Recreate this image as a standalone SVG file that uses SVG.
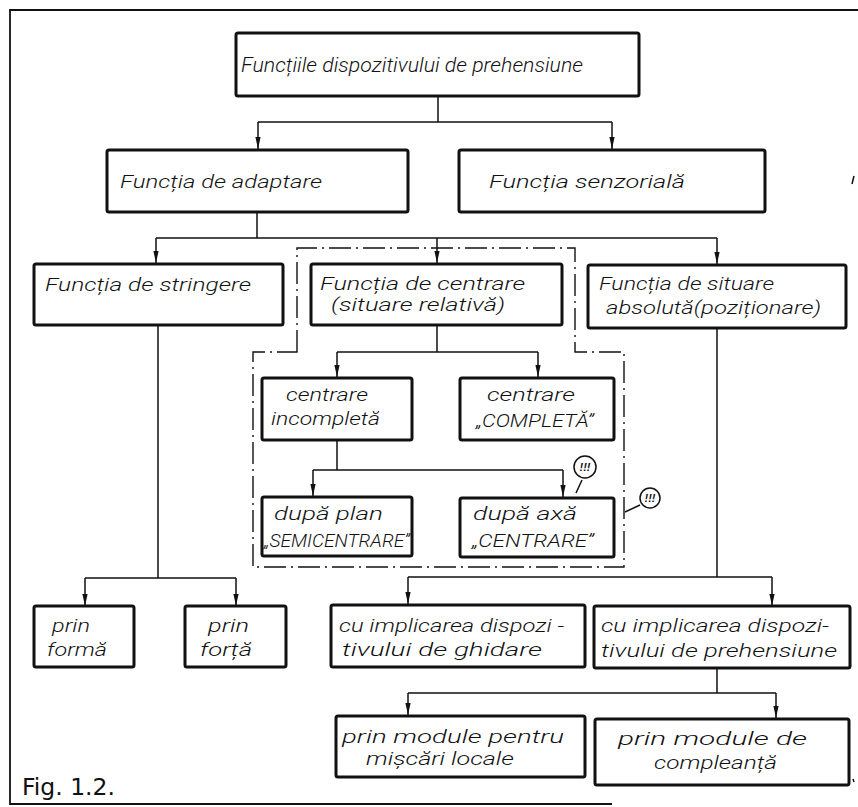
<svg xmlns="http://www.w3.org/2000/svg" width="858" height="807" viewBox="0 0 858 807">
<style>
.box{fill:#fff;stroke:#111;stroke-width:3;}
.ln{fill:none;stroke:#111;stroke-width:1.5;}
.fr{fill:none;stroke:#111;stroke-width:1.8;}
.dd{fill:none;stroke:#111;stroke-width:1.4;stroke-dasharray:22 5 2 5;}
.t{font-family:Roboto,"Liberation Sans","DejaVu Sans",sans-serif;font-style:italic;font-weight:300;font-size:19px;fill:#111;}
.t1{font-size:20px;}
.cap{font-family:"DejaVu Sans","Liberation Sans",sans-serif;font-size:23px;fill:#111;}
.ex{font-family:"Liberation Sans",sans-serif;font-style:italic;font-size:11px;fill:#111;font-weight:bold;}
</style>
<defs>
<marker id="ar" viewBox="-12 -3 12 6" markerWidth="12" markerHeight="6" refX="0" refY="0" orient="auto" markerUnits="userSpaceOnUse">
<path d="M0,0 L-12,-2.6 L-12,2.6 Z" fill="#111"/>
</marker>
</defs>
<rect width="858" height="807" fill="#fff"/>
<g id="frame">
<path class="fr" d="M858,10 H10 V804 H612"/>
<path class="dd" d="M297,352 V248 H575 V352 H624 V567 H253 V352 Z"/>
<path class="ln" d="M854,176 L852,184 M853,779 L854,782"/>
</g>
<g id="connectors">
<path class="ln" d="M438,96 V122 M258,122 H612"/>
<path class="ln" d="M258,122 V149" marker-end="url(#ar)"/>
<path class="ln" d="M612,122 V149" marker-end="url(#ar)"/>
<path class="ln" d="M257,212 V238 M156,238 H717"/>
<path class="ln" d="M156,238 V263" marker-end="url(#ar)"/>
<path class="ln" d="M437,238 V263" marker-end="url(#ar)"/>
<path class="ln" d="M717,238 V264" marker-end="url(#ar)"/>
<path class="ln" d="M437,325 V352 M337,352 H538"/>
<path class="ln" d="M337,352 V377" marker-end="url(#ar)"/>
<path class="ln" d="M538,352 V377" marker-end="url(#ar)"/>
<path class="ln" d="M337,440 V470 M313,470 H563"/>
<path class="ln" d="M313,470 V496" marker-end="url(#ar)"/>
<path class="ln" d="M563,470 V497" marker-end="url(#ar)"/>
<path class="ln" d="M158,325 V578 M85,578 H236"/>
<path class="ln" d="M85,578 V606" marker-end="url(#ar)"/>
<path class="ln" d="M236,578 V606" marker-end="url(#ar)"/>
<path class="ln" d="M717,328 V577 M408,577 H772"/>
<path class="ln" d="M408,577 V604" marker-end="url(#ar)"/>
<path class="ln" d="M772,577 V606" marker-end="url(#ar)"/>
<path class="ln" d="M717,668 V693 M408,693 H776"/>
<path class="ln" d="M408,693 V715" marker-end="url(#ar)"/>
<path class="ln" d="M776,693 V718" marker-end="url(#ar)"/>
<path class="ln" d="M576,493 L582,480 M625,512 L640,505"/>
</g>
<g id="n1"><rect class="box" x="236" y="33" width="403" height="63" rx="2"/>
<text class="t t1" x="241" y="72" textLength="342" lengthAdjust="spacingAndGlyphs">Funcțiile dispozitivului de prehensiune</text></g>
<g id="n2"><rect class="box" x="107" y="150" width="301" height="62" rx="2"/>
<text class="t" x="120" y="188" textLength="202" lengthAdjust="spacingAndGlyphs">Funcția  de adaptare</text></g>
<g id="n3"><rect class="box" x="459" y="150" width="306" height="62" rx="2"/>
<text class="t" x="489" y="188" textLength="196" lengthAdjust="spacingAndGlyphs">Funcția  senzorială</text></g>
<g id="n4"><rect class="box" x="34" y="264" width="249" height="61" rx="2"/>
<text class="t" x="45" y="291" textLength="206" lengthAdjust="spacingAndGlyphs">Funcția de stringere</text></g>
<g id="n5"><rect class="box" x="311" y="264" width="251" height="61" rx="2"/>
<text class="t" x="320" y="290" textLength="205" lengthAdjust="spacingAndGlyphs">Funcția de  centrare</text>
<text class="t" x="331" y="311" textLength="174" lengthAdjust="spacingAndGlyphs">(situare relativă)</text></g>
<g id="n6"><rect class="box" x="588" y="265" width="258" height="63" rx="2"/>
<text class="t" x="599" y="290" textLength="175" lengthAdjust="spacingAndGlyphs">Funcția de situare</text>
<text class="t" x="606" y="314" textLength="215" lengthAdjust="spacingAndGlyphs">absolută(poziționare)</text></g>
<g id="n7"><rect class="box" x="262" y="378" width="150" height="62" rx="2"/>
<text class="t" x="286" y="401" textLength="82" lengthAdjust="spacingAndGlyphs">centrare</text>
<text class="t" x="271" y="425" textLength="109" lengthAdjust="spacingAndGlyphs">incompletă</text></g>
<g id="n8"><rect class="box" x="460" y="378" width="154" height="62" rx="2"/>
<text class="t" x="487" y="401" textLength="88" lengthAdjust="spacingAndGlyphs">centrare</text>
<text class="t" x="476" y="427" textLength="118" lengthAdjust="spacingAndGlyphs">„COMPLETĂ”</text></g>
<g id="n9"><rect class="box" x="262" y="497" width="150" height="59" rx="2"/>
<text class="t" x="274" y="520" textLength="109" lengthAdjust="spacingAndGlyphs">după  plan</text>
<text class="t" x="264" y="547" textLength="146" lengthAdjust="spacingAndGlyphs">„SEMICENTRARE”</text></g>
<g id="n10"><rect class="box" x="460" y="498" width="154" height="59" rx="2"/>
<text class="t" x="473" y="520" textLength="104" lengthAdjust="spacingAndGlyphs">după  axă</text>
<text class="t" x="472" y="547" textLength="122" lengthAdjust="spacingAndGlyphs">„CENTRARE”</text></g>
<g id="n11"><rect class="box" x="34" y="606" width="100" height="61" rx="2"/>
<text class="t" x="52" y="632" textLength="38" lengthAdjust="spacingAndGlyphs">prin</text>
<text class="t" x="47" y="656" textLength="60" lengthAdjust="spacingAndGlyphs">formă</text></g>
<g id="n12"><rect class="box" x="185" y="606" width="101" height="61" rx="2"/>
<text class="t" x="208" y="632" textLength="41" lengthAdjust="spacingAndGlyphs">prin</text>
<text class="t" x="200" y="656" textLength="52" lengthAdjust="spacingAndGlyphs">forță</text></g>
<g id="n13"><rect class="box" x="331" y="605" width="254" height="62" rx="2"/>
<text class="t" x="339" y="632" textLength="225" lengthAdjust="spacingAndGlyphs">cu implicarea dispozi -</text>
<text class="t" x="342" y="656" textLength="200" lengthAdjust="spacingAndGlyphs">tivului  de  ghidare</text></g>
<g id="n14"><rect class="box" x="594" y="606" width="256" height="62" rx="2"/>
<text class="t" x="601" y="632" textLength="228" lengthAdjust="spacingAndGlyphs">cu implicarea  dispozi-</text>
<text class="t" x="601" y="657" textLength="236" lengthAdjust="spacingAndGlyphs">tivului de prehensiune</text></g>
<g id="n15"><rect class="box" x="336" y="716" width="249" height="61" rx="2"/>
<text class="t" x="342" y="743" textLength="222" lengthAdjust="spacingAndGlyphs">prin module  pentru</text>
<text class="t" x="366" y="765" textLength="148" lengthAdjust="spacingAndGlyphs">mișcări locale</text></g>
<g id="n16"><rect class="box" x="595" y="719" width="254" height="66" rx="2"/>
<text class="t" x="618" y="745" textLength="189" lengthAdjust="spacingAndGlyphs">prin module  de</text>
<text class="t" x="654" y="769" textLength="123" lengthAdjust="spacingAndGlyphs">compleanță</text></g>
<g id="note1"><circle cx="585" cy="467" r="11" fill="#fff" stroke="#111" stroke-width="1.5"/>
<text class="ex" x="585" y="471" text-anchor="middle">!!!</text></g>
<g id="note2"><circle cx="650" cy="498" r="10" fill="#fff" stroke="#111" stroke-width="1.5"/>
<text class="ex" x="650" y="502" text-anchor="middle">!!!</text></g>
<g id="caption"><text class="cap" x="22" y="795" textLength="93" lengthAdjust="spacingAndGlyphs">Fig. 1.2.</text></g>
</svg>
